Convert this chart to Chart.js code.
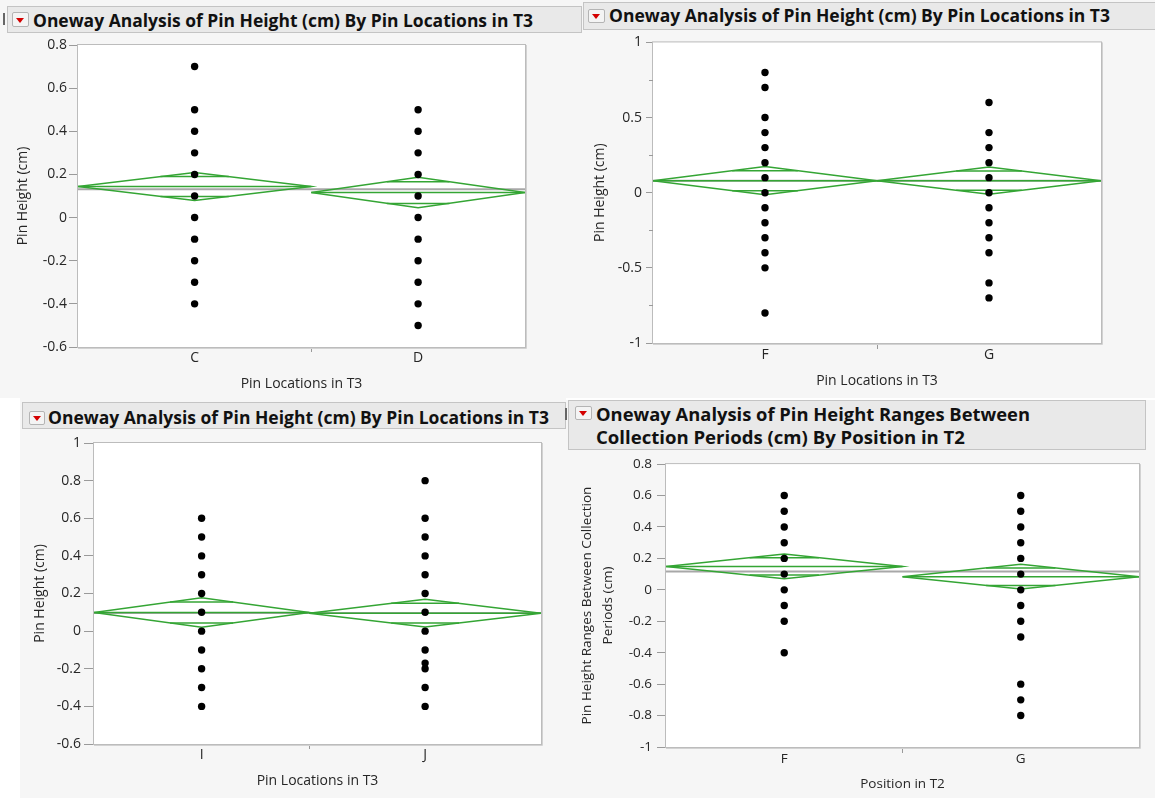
<!DOCTYPE html>
<html><head><meta charset="utf-8">
<script src="https://cdn.jsdelivr.net/npm/chart.js@4.4.1/dist/chart.umd.min.js"></script>
<style>
html,body{margin:0;padding:0;background:#fff;width:1155px;height:798px;overflow:hidden;position:relative;font-family:"Open Sans","Liberation Sans",sans-serif}
.bg{position:absolute;background:#f6f6f6}
.hdr{position:absolute;background:#e9e9e9;border:1px solid #c4c4c4;box-sizing:border-box}
.icon{position:absolute;box-sizing:border-box;border:1px solid #b4b4b4;border-radius:2px;background:#f4f4f4}
.tri{position:absolute;width:0;height:0;border-left:4.5px solid transparent;border-right:4.5px solid transparent;border-top:5px solid #d40000}
.ttl{position:absolute;white-space:nowrap;font-weight:700;font-size:18.5px;line-height:18.5px;color:#111;transform-origin:0 50%}
.bar{position:absolute;background:#666}
canvas{position:absolute}
</style></head><body>
<div class="bg" style="left:0;top:0;width:580px;height:398px"></div>
<div class="bg" style="left:580px;top:0;width:575px;height:398px"></div>
<div class="bg" style="left:20px;top:398px;width:546px;height:400px"></div>
<div class="bg" style="left:566px;top:400px;width:589px;height:398px"></div>

<div class="bar" style="left:3px;top:13px;width:2px;height:12px"></div>
<div class="hdr" style="left:7px;top:6px;width:575px;height:27px"></div>
<div class="icon" style="left:12px;top:12px;width:17px;height:15px"></div>
<div class="tri" style="left:16px;top:18px"></div>
<div class="ttl" data-w="500" style="left:32.7px;top:10.6px">Oneway Analysis of Pin Height (cm) By Pin Locations in T3</div>

<div class="hdr" style="left:583px;top:2px;width:575px;height:28px"></div>
<div class="icon" style="left:588px;top:9px;width:17px;height:14px"></div>
<div class="tri" style="left:592px;top:14px"></div>
<div class="ttl" data-w="501" style="left:609.3px;top:6.2px">Oneway Analysis of Pin Height (cm) By Pin Locations in T3</div>

<div class="hdr" style="left:22px;top:402px;width:544px;height:27px"></div>
<div class="icon" style="left:29px;top:411px;width:16px;height:14px"></div>
<div class="tri" style="left:33px;top:416px"></div>
<div class="ttl" data-w="501" style="left:48.3px;top:408.2px">Oneway Analysis of Pin Height (cm) By Pin Locations in T3</div>
<div class="bar" style="left:565px;top:408px;width:1.5px;height:12px"></div>

<div class="hdr" style="left:568px;top:400px;width:578px;height:50px"></div>
<div class="icon" style="left:575px;top:406px;width:17px;height:14px"></div>
<div class="tri" style="left:579px;top:411px"></div>
<div class="ttl" data-w="434" style="left:596px;top:404.5px">Oneway Analysis of Pin Height Ranges Between</div>
<div class="ttl" data-w="369" style="left:596px;top:427.5px">Collection Periods (cm) By Position in T2</div>

<canvas id="c1" width="580" height="364" style="left:0px;top:34px"></canvas>
<canvas id="c2" width="575" height="368" style="left:580px;top:30px"></canvas>
<canvas id="c3" width="546" height="368" style="left:20px;top:430px"></canvas>
<canvas id="c4" width="589" height="347" style="left:566px;top:451px"></canvas>

<script>
// ---------- Panel 1: Pin Height by Pin Locations in T3 (C, D) ----------
const p1Categories = ['C', 'D'];
const p1GroupSizes = [12, 11];
const p1ValuesC = [0.7, 0.5, 0.4, 0.3, 0.2, 0.1, 0, -0.1, -0.2, -0.3, -0.4];
const p1ValuesD = [0.5, 0.4, 0.3, 0.2, 0.1, 0, -0.1, -0.2, -0.3, -0.4, -0.5];
const p1Means = [0.144, 0.116];
const p1Lower95 = [0.079, 0.045];
const p1Upper95 = [0.209, 0.187];
const p1GrandMean = 0.131;
const p1YTicks = [-0.6, -0.4, -0.2, 0, 0.2, 0.4, 0.6, 0.8];

// ---------- Panel 2: Pin Height by Pin Locations in T3 (F, G) ----------
const p2Categories = ['F', 'G'];
const p2GroupSizes = [14, 14];
const p2ValuesF = [0.8, 0.7, 0.5, 0.4, 0.3, 0.2, 0.1, 0, -0.1, -0.2, -0.3, -0.4, -0.5, -0.8];
const p2ValuesG = [0.6, 0.4, 0.3, 0.2, 0.1, 0, -0.1, -0.2, -0.3, -0.4, -0.6, -0.7];
const p2Means = [0.080, 0.080];
const p2Lower95 = [-0.014, -0.010];
const p2Upper95 = [0.174, 0.171];
const p2GrandMean = 0.080;
const p2YTicks = [-1, -0.5, 0, 0.5, 1];
const p2MinorTicks = [-0.75, -0.25, 0.25, 0.75];

// ---------- Panel 3: Pin Height by Pin Locations in T3 (I, J) ----------
const p3Categories = ['I', 'J'];
const p3GroupSizes = [13, 14];
const p3ValuesI = [0.6, 0.5, 0.4, 0.3, 0.2, 0.1, 0, -0.1, -0.2, -0.3, -0.4];
const p3ValuesJ = [0.8, 0.6, 0.5, 0.4, 0.3, 0.2, 0.1, 0, -0.1, -0.17, -0.2, -0.3, -0.4];
const p3Means = [0.099, 0.095];
const p3Lower95 = [0.021, 0.022];
const p3Upper95 = [0.178, 0.170];
const p3GrandMean = 0.097;
const p3YTicks = [-0.6, -0.4, -0.2, 0, 0.2, 0.4, 0.6, 0.8, 1];

// ---------- Panel 4: Pin Height Ranges by Position in T2 (F, G) ----------
const p4Categories = ['F', 'G'];
const p4GroupSizes = [20, 20];
const p4ValuesF = [0.6, 0.5, 0.4, 0.3, 0.2, 0.1, 0, -0.1, -0.2, -0.4];
const p4ValuesG = [0.6, 0.5, 0.4, 0.3, 0.2, 0.1, 0, -0.1, -0.2, -0.3, -0.6, -0.7, -0.8];
const p4Means = [0.149, 0.084];
const p4Lower95 = [0.071, 0.005];
const p4Upper95 = [0.228, 0.162];
const p4GrandMean = 0.116;
const p4YTicks = [-1, -0.8, -0.6, -0.4, -0.2, 0, 0.2, 0.4, 0.6, 0.8];

const FONT = '"Open Sans", "Liberation Sans", sans-serif';
const GREEN = '#34a534';
const TEXT = '#262626';
const TICK = '#9a9a9a';

const framePlugin = {
  id: 'frame',
  beforeDraw(chart) {
    const a = chart.chartArea, ctx = chart.ctx;
    ctx.save();
    ctx.fillStyle = '#ffffff';
    ctx.fillRect(a.left, a.top, a.right - a.left, a.bottom - a.top);
    ctx.restore();
  },
  afterDraw(chart, args, opts) {
    const a = chart.chartArea, ctx = chart.ctx;
    ctx.save();
    ctx.strokeStyle = '#bcbcbc';
    ctx.lineWidth = 1;
    ctx.strokeRect(a.left - 0.5, a.top - 0.5, a.right - a.left + 1, a.bottom - a.top + 1);
    ctx.strokeStyle = '#d2d2d2';
    ctx.beginPath();
    ctx.moveTo(a.right + 1.5, a.top); ctx.lineTo(a.right + 1.5, a.bottom + 1.5);
    ctx.lineTo(a.left, a.bottom + 1.5);
    ctx.stroke();
    if (opts && opts.minor) {
      ctx.strokeStyle = TICK;
      const ys = chart.scales.y;
      opts.minor.forEach(v => {
        const y = Math.round(ys.getPixelForValue(v)) + 0.5;
        ctx.beginPath(); ctx.moveTo(a.left - 4, y); ctx.lineTo(a.left, y); ctx.stroke();
      });
    }
    ctx.restore();
  }
};

function lineDs(points, color, width) {
  return {
    data: points.map(p => ({x: p[0], y: p[1]})),
    showLine: true, borderColor: color, borderWidth: width,
    pointRadius: 0, pointHoverRadius: 0, fill: false, tension: 0
  };
}

function makeOneway(id, s) {
  const sizes = s.sizes;
  const total = sizes.reduce((a, b) => a + b, 0);
  const starts = [];
  let acc = 0;
  sizes.forEach(n => { starts.push(acc); acc += n; });
  const centers = sizes.map((n, i) => starts[i] + n / 2);
  const bounds = starts.slice(1);
  const datasets = [];
  s.categories.forEach((c, i) => {
    datasets.push({
      label: c,
      data: s.values[i].map(v => ({x: centers[i], y: v})),
      pointRadius: 3.7, pointHoverRadius: 3.7,
      pointBackgroundColor: '#000', pointBorderWidth: 0, showLine: false
    });
  });
  const k = 1 - Math.SQRT1_2;
  s.categories.forEach((c, i) => {
    const x0 = starts[i], x1 = starts[i] + sizes[i], xc = centers[i];
    const m = s.means[i], hi = s.upper[i], lo = s.lower[i];
    const hw = sizes[i] / 2 * k;
    datasets.push(lineDs([[x0, m], [xc, hi], [x1, m], [xc, lo], [x0, m]], GREEN, 1.5));
    datasets.push(lineDs([[x0, m], [x1, m]], GREEN, 1.5));
    datasets.push(lineDs([[xc - hw, m + (hi - m) / Math.SQRT2], [xc + hw, m + (hi - m) / Math.SQRT2]], GREEN, 1.5));
    datasets.push(lineDs([[xc - hw, m - (m - lo) / Math.SQRT2], [xc + hw, m - (m - lo) / Math.SQRT2]], GREEN, 1.5));
  });
  datasets.push(lineDs([[0, s.grand], [total, s.grand]], '#a8a8a8', 2));

  const xTickVals = centers.concat(bounds).sort((a, b) => a - b);
  const fs = s.fontSize;
  return new Chart(document.getElementById(id), {
    type: 'scatter',
    data: {datasets},
    options: {
      responsive: false, animation: false, devicePixelRatio: 1,
      events: [],
      layout: {padding: {top: s.pad.top, right: s.pad.right, left: 0, bottom: 0}},
      plugins: {legend: {display: false}, tooltip: {enabled: false}, frame: {minor: s.minor || null}},
      scales: {
        x: {
          type: 'linear', min: 0, max: total,
          afterBuildTicks: ax => { ax.ticks = xTickVals.map(v => ({value: v})); },
          afterFit: ax => { ax.height = s.xh; },
          border: {display: false},
          grid: {
            drawOnChartArea: false, drawTicks: true, tickLength: s.xTickLen, color: 'rgba(0,0,0,0)',
            tickColor: ctx => (ctx.tick && bounds.indexOf(ctx.tick.value) >= 0) ? TICK : 'rgba(0,0,0,0)'
          },
          ticks: {
            autoSkip: false, maxRotation: 0, padding: s.xTickPad, color: TEXT, font: {family: FONT, size: fs},
            callback: v => { const i = centers.indexOf(v); return i >= 0 ? s.categories[i] : ''; }
          },
          title: {display: true, text: s.xTitle, color: TEXT, font: {family: FONT, size: fs}, padding: {top: 0, bottom: s.xTitlePad}}
        },
        y: {
          type: 'linear', min: s.yMin, max: s.yMax,
          afterBuildTicks: ax => { ax.ticks = s.yTicks.map(v => ({value: v})); },
          afterFit: ax => { ax.width = s.yw; },
          border: {display: false},
          grid: {drawOnChartArea: false, drawTicks: true, tickLength: s.yTickLen, tickColor: TICK, color: 'rgba(0,0,0,0)'},
          ticks: {
            autoSkip: false, padding: s.yTickPad, color: TEXT, font: {family: FONT, size: fs},
            callback: v => String(+v.toFixed(2))
          },
          title: {display: true, text: s.yTitle, color: TEXT, font: {family: FONT, size: fs, lineHeight: s.yTitleLH || 1.2}, padding: {top: s.yTitlePad, bottom: 0}}
        }
      }
    },
    plugins: [framePlugin]
  });
}

makeOneway('c1', {
  categories: p1Categories, sizes: p1GroupSizes, values: [p1ValuesC, p1ValuesD],
  means: p1Means, lower: p1Lower95, upper: p1Upper95, grand: p1GrandMean,
  yTicks: p1YTicks, yMin: -0.6, yMax: 0.8, fontSize: 14,
  yTitle: 'Pin Height (cm)', xTitle: 'Pin Locations in T3',
  pad: {top: 11, right: 55}, yw: 78, xh: 51,
  yTickLen: 9, yTickPad: 2, xTickLen: 5, xTickPad: -2.4, yTitlePad: 15.1, xTitlePad: 5.6
});
makeOneway('c2', {
  categories: p2Categories, sizes: p2GroupSizes, values: [p2ValuesF, p2ValuesG],
  means: p2Means, lower: p2Lower95, upper: p2Upper95, grand: p2GrandMean,
  yTicks: p2YTicks, yMin: -1, yMax: 1, minor: p2MinorTicks, fontSize: 14,
  yTitle: 'Pin Height (cm)', xTitle: 'Pin Locations in T3',
  pad: {top: 12, right: 54}, yw: 73, xh: 55,
  yTickLen: 7, yTickPad: 4, xTickLen: 6, xTickPad: -2.4, yTitlePad: 11.8, xTitlePad: 8.6
});
makeOneway('c3', {
  categories: p3Categories, sizes: p3GroupSizes, values: [p3ValuesI, p3ValuesJ],
  means: p3Means, lower: p3Lower95, upper: p3Upper95, grand: p3GrandMean,
  yTicks: p3YTicks, yMin: -0.6, yMax: 1, fontSize: 14,
  yTitle: 'Pin Height (cm)', xTitle: 'Pin Locations in T3',
  pad: {top: 13, right: 25}, yw: 74, xh: 54,
  yTickLen: 10, yTickPad: 3, xTickLen: 5, xTickPad: -2.4, yTitlePad: 11.4, xTitlePad: 8.1
});
makeOneway('c4', {
  categories: p4Categories, sizes: p4GroupSizes, values: [p4ValuesF, p4ValuesG],
  means: p4Means, lower: p4Lower95, upper: p4Upper95, grand: p4GrandMean,
  yTicks: p4YTicks, yMin: -1, yMax: 0.8, fontSize: 13.5,
  yTitle: ['Pin Height Ranges Between Collection', 'Periods (cm)'], yTitleLH: 1.556, xTitle: 'Position in T2',
  pad: {top: 11, right: 16}, yw: 100, xh: 51,
  yTickLen: 9, yTickPad: 5, xTickLen: 6, xTickPad: -2.1, yTitlePad: 10.5, xTitlePad: 5.9
});

function fitTitles() {
  document.querySelectorAll('.ttl').forEach(el => {
    el.style.transform = 'none';
    const w = el.getBoundingClientRect().width;
    const target = +el.dataset.w;
    if (w > 0) el.style.transform = 'scaleX(' + (target / w) + ')';
  });
}
fitTitles();
if (document.fonts && document.fonts.ready) document.fonts.ready.then(fitTitles);
</script>
</body></html>
